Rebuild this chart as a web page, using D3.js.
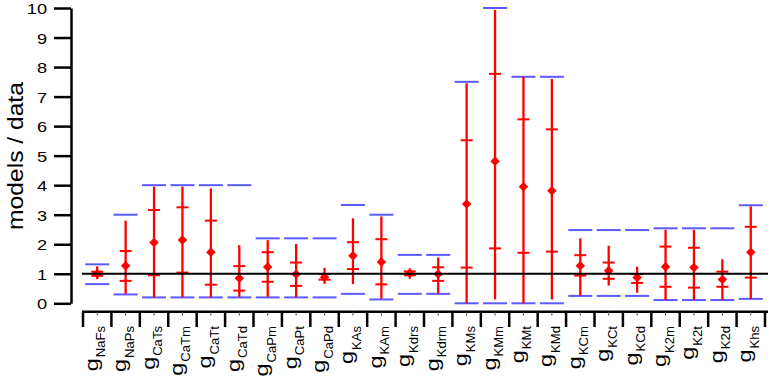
<!DOCTYPE html>
<html>
<head>
<meta charset="utf-8">
<script src="https://cdn.jsdelivr.net/npm/d3@7"></script>
<style>
  body { margin: 0; background: #fff; }
  text { font-family: "Liberation Sans", Arial, Helvetica, sans-serif; fill: #000; }
</style>
</head>
<body>
<div id="chart"></div>
<script>
// parameter names (subscripts of g)
const subs = ['NaFs', 'NaPs', 'CaTs', 'CaTm', 'CaTt', 'CaTd', 'CaPm', 'CaPt', 'CaPd',
  'KAs', 'KAm', 'Kdrs', 'Kdrm', 'KMs', 'KMm', 'KMt', 'KMd',
  'KCm', 'KCt', 'KCd', 'K2m', 'K2t', 'K2d', 'Khs'];

// allowed range (blue bars)
const rangeHi = [1.32, 3.0, 4.0, 4.0, 4.0, 4.0, 2.2, 2.2, 2.2, 3.33, 3.0, 1.64, 1.64,
  7.5, 10.0, 7.67, 7.67, 2.48, 2.48, 2.48, 2.54, 2.54, 2.54, 3.32];
const rangeLo = [0.65, 0.30, 0.2, 0.2, 0.2, 0.2, 0.2, 0.2, 0.2, 0.32, 0.13, 0.32, 0.32,
  0, 0, 0, 0, 0.25, 0.25, 0.25, 0.11, 0.11, 0.11, 0.15];

// min / max over models (red line)
const modelMax = [1.25, 2.80, 3.95, 3.95, 3.89, 1.97, 2.14, 2.01, 1.20, 2.88, 2.94, 1.18, 1.55,
  7.45, 9.93, 7.67, 7.60, 2.20, 1.95, 1.24, 2.49, 2.49, 1.49, 3.28];
const modelMin = [0.82, 0.32, 0.2, 0.2, 0.2, 0.22, 0.22, 0.2, 0.66, 0.65, 0.15, 0.83, 0.33,
  0, 0.13, 0, 0.13, 0.25, 0.60, 0.36, 0.11, 0.11, 0.11, 0.15];

// mean +/- sd (red ticks) and mean (diamonds)
const sdHi = [1.07, 1.77, 3.16, 3.25, 2.80, 1.26, 1.73, 1.38, 0.99, 2.07, 2.17, 1.08, 1.22,
  5.52, 7.77, 6.23, 5.89, 1.63, 1.38, 0.99, 1.92, 1.88, 1.07, 2.59];
const sdLo = [0.93, 0.76, 0.95, 1.04, 0.63, 0.43, 0.73, 0.59, 0.80, 1.16, 0.64, 0.95, 0.76,
  1.21, 1.86, 1.71, 1.75, 0.94, 0.83, 0.69, 0.56, 0.53, 0.56, 0.87];
const means = [1.00, 1.27, 2.06, 2.14, 1.73, 0.85, 1.23, 0.98, 0.88, 1.61, 1.40, 1.02, 0.99,
  3.36, 4.81, 3.95, 3.81, 1.27, 1.10, 0.87, 1.24, 1.21, 0.81, 1.73];

const yTicks = [0, 1, 2, 3, 4, 5, 6, 7, 8, 9, 10];
const refValue = 1;

const width = 768, height = 376;
const blue = '#5a5aff', red = '#ff0000';

const data = subs.map((s, i) => ({
  name: s, hi: rangeHi[i], lo: rangeLo[i], max: modelMax[i], min: modelMin[i],
  sdHi: sdHi[i], sdLo: sdLo[i], mean: means[i]
}));

const svg = d3.select('#chart').append('svg')
  .attr('width', width)
  .attr('height', height);

const x = d3.scaleBand()
  .domain(subs)
  .range([83, 765])
  .padding(0);

const y = d3.scaleLinear()
  .domain([0, 10])
  .range([303.3, 8]);

const cx = d => x(d.name) + x.bandwidth() / 2;

// y axis
const yAxis = svg.append('g')
  .attr('transform', 'translate(71,0)')
  .call(d3.axisLeft(y).tickValues(yTicks).tickSize(17).tickPadding(7).tickSizeOuter(0));
yAxis.select('.domain').attr('stroke', '#000').attr('stroke-width', 2.5);
yAxis.selectAll('.tick line').attr('stroke', '#000').attr('stroke-width', 2.5);
yAxis.selectAll('.tick text')
  .attr('x', null)
  .attr('dy', null)
  .attr('transform', 'translate(-24,5.5) scale(1.3,1)')
  .style('font-size', '14px');

// y title
svg.append('text')
  .attr('transform', 'translate(23,156) rotate(-90) scale(1.12,1)')
  .attr('text-anchor', 'middle')
  .style('font-size', '22px')
  .text('models / data');

// x axis
const xAxisY = 311.7;
svg.append('line')
  .attr('x1', 82).attr('x2', width)
  .attr('y1', xAxisY).attr('y2', xAxisY)
  .attr('stroke', '#000').attr('stroke-width', 2.5);

const bounds = subs.map(s => x(s)).concat([x.range()[1]]);
svg.append('g').selectAll('line')
  .data(bounds)
  .join('line')
  .attr('x1', d => d).attr('x2', d => d)
  .attr('y1', xAxisY).attr('y2', 327)
  .attr('stroke', '#000').attr('stroke-width', 2.5);

svg.append('g').selectAll('line')
  .data(data)
  .join('line')
  .attr('x1', cx).attr('x2', cx)
  .attr('y1', xAxisY).attr('y2', xAxisY + 4)
  .attr('stroke', '#555').attr('stroke-width', 1);

// x labels: subscript first (top end at 326), then the big g below it
const labelTop = 326;
const labels = svg.append('g');
const subText = labels.selectAll('.sub')
  .data(data)
  .join('text')
  .attr('class', 'sub')
  .attr('text-anchor', 'end')
  .attr('transform', d => `translate(${cx(d) + 8},${labelTop}) rotate(-90) scale(1.05,1)`)
  .style('font-size', '12.5px')
  .text(d => d.name);
const subLen = subText.nodes().map(n => n.getComputedTextLength() * 1.05);
labels.selectAll('.gg')
  .data(data)
  .join('text')
  .attr('class', 'gg')
  .attr('text-anchor', 'end')
  .attr('transform', (d, i) => `translate(${cx(d) + 0.5},${labelTop + subLen[i] + 1}) rotate(-90) scale(1.3,1)`)
  .style('font-size', '18px')
  .text('g');

// marks
const marks = svg.append('g');
const bw = 12, tw = 6;

// blue range bars
marks.selectAll('.rhi')
  .data(data)
  .join('line')
  .attr('class', 'rhi')
  .attr('x1', d => cx(d) - bw).attr('x2', d => cx(d) + bw)
  .attr('y1', d => y(d.hi)).attr('y2', d => y(d.hi))
  .attr('stroke', blue).attr('stroke-width', 2);
marks.selectAll('.rlo')
  .data(data)
  .join('line')
  .attr('class', 'rlo')
  .attr('x1', d => cx(d) - bw).attr('x2', d => cx(d) + bw)
  .attr('y1', d => y(d.lo)).attr('y2', d => y(d.lo))
  .attr('stroke', blue).attr('stroke-width', 2);

// red min-max line
marks.selectAll('.span')
  .data(data)
  .join('line')
  .attr('class', 'span')
  .attr('x1', cx).attr('x2', cx)
  .attr('y1', d => y(d.max)).attr('y2', d => y(d.min))
  .attr('stroke', red).attr('stroke-width', 2.3);

// sd ticks
marks.selectAll('.sdh')
  .data(data)
  .join('line')
  .attr('class', 'sdh')
  .attr('x1', d => cx(d) - tw).attr('x2', d => cx(d) + tw)
  .attr('y1', d => y(d.sdHi)).attr('y2', d => y(d.sdHi))
  .attr('stroke', red).attr('stroke-width', 2);
marks.selectAll('.sdl')
  .data(data)
  .join('line')
  .attr('class', 'sdl')
  .attr('x1', d => cx(d) - tw).attr('x2', d => cx(d) + tw)
  .attr('y1', d => y(d.sdLo)).attr('y2', d => y(d.sdLo))
  .attr('stroke', red).attr('stroke-width', 2);

// mean diamonds
const diamond = d3.symbol().type(d3.symbolSquare).size(45);
marks.selectAll('.mean')
  .data(data)
  .join('path')
  .attr('class', 'mean')
  .attr('d', diamond)
  .attr('transform', d => `translate(${cx(d)},${y(d.mean)}) rotate(45)`)
  .attr('fill', red);

// reference line at 1
svg.append('line')
  .attr('x1', 82).attr('x2', width)
  .attr('y1', y(refValue)).attr('y2', y(refValue))
  .attr('stroke', '#000').attr('stroke-width', 2);
</script>
</body>
</html>
